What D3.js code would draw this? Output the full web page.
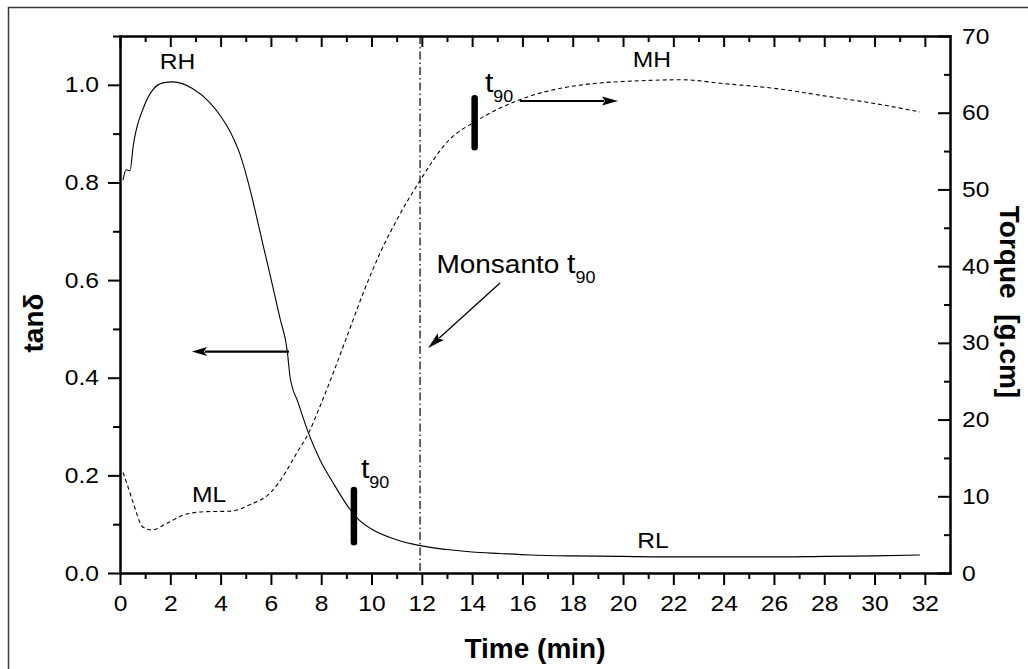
<!DOCTYPE html>
<html>
<head>
<meta charset="utf-8">
<script src="https://cdn.jsdelivr.net/npm/d3@7"></script>
<style>
  html, body { margin: 0; padding: 0; background: #fff; }
  svg { display: block; font-family: "Liberation Sans", Arial, Helvetica, sans-serif; }
</style>
</head>
<body>
<svg id="chart" width="1028" height="669"></svg>
<script>
// ---- Rheometer cure curve: loss tangent and torque vs time ----

// tan(delta) trace (left axis)
const tanTime  = [0.12, 0.24, 0.40, 0.52, 0.95, 1.31, 1.71, 2.10, 2.90, 3.58, 4.00, 4.40, 4.77, 5.17, 5.57, 5.97, 6.36, 6.65, 6.76, 7.09, 7.49, 7.95, 8.48, 9.15, 9.42, 10.0, 11.0, 11.93, 13.0, 14.0, 15.1, 16.3, 18.0, 20.0, 22.0, 24.0, 26.2, 28.0, 30.0, 31.8];
const tanValue = [0.805, 0.826, 0.824, 0.873, 0.955, 0.990, 1.004, 1.006, 0.992, 0.963, 0.936, 0.902, 0.858, 0.786, 0.698, 0.610, 0.522, 0.455, 0.402, 0.348, 0.287, 0.232, 0.184, 0.130, 0.113, 0.090, 0.068, 0.056, 0.048, 0.043, 0.040, 0.037, 0.035, 0.034, 0.033, 0.033, 0.033, 0.034, 0.035, 0.037];

// torque trace (right axis, g.cm)
const torqueTime  = [0.12, 0.30, 0.52, 0.91, 1.27, 1.87, 2.66, 3.46, 4.37, 5.17, 5.96, 6.56, 7.02, 7.49, 7.95, 8.48, 9.02, 9.67, 10.34, 11.0, 11.86, 13.1, 14.1, 15.9, 18.3, 20.95, 22.3, 24.0, 26.2, 28.0, 30.0, 31.8];
const torqueValue = [13.1, 11.4, 9.2, 6.0, 5.6, 6.5, 7.7, 8.0, 8.05, 8.9, 10.4, 13.0, 15.6, 18.2, 21.7, 26.1, 30.8, 36.5, 41.7, 46.0, 50.8, 56.5, 58.8, 61.7, 63.6, 64.2, 64.3, 63.8, 63.1, 62.2, 61.2, 60.1];

// axis ticks
const timeMajor   = d3.range(0, 33, 2);
const timeMinor   = d3.range(1, 33, 2);
const tanMajor    = [0.0, 0.2, 0.4, 0.6, 0.8, 1.0];
const tanMinor    = [0.1, 0.3, 0.5, 0.7, 0.9, 1.1];
const torqueMajor = [0, 10, 20, 30, 40, 50, 60, 70];
const torqueMinor = [5, 15, 25, 35, 45, 55, 65];

// cure-time markers
const monsantoT90 = 11.93;                       // min
const t90Tan      = { time: 9.3,  lo: 0.063, hi: 0.170 };   // on tan(delta)
const t90Torque   = { time: 14.1, lo: 55.5,  hi: 61.9 };    // on torque

// ---- layout ----
const W = 1028, H = 669;
const L = 120, R = 950, T = 36, B = 573;
const SX = 1.12;   // regular text is drawn slightly widened

const svg = d3.select("#chart");

const x   = d3.scaleLinear().domain([0, 33]).range([L, R]);
const yL  = d3.scaleLinear().domain([0, 1.1]).range([B, T]);
const yR  = d3.scaleLinear().domain([0, 70]).range([B, T]);

// outer frame (extends past the canvas on the right and bottom)
svg.append("path")
  .attr("d", `M8.5,${H + 2}V7.5H${W + 2}`)
  .attr("fill", "none")
  .attr("stroke", "#3a3a3a")
  .attr("stroke-width", 1.5);

function styleAxis(g) {
  g.attr("font-family", null).attr("font-size", 22);
  g.selectAll(".domain").attr("stroke", "#000").attr("stroke-width", 2).attr("stroke-linecap", "square");
  g.selectAll(".tick line").attr("stroke", "#000").attr("stroke-width", 2);
  g.selectAll(".tick text").attr("fill", "#000").each(function () {
    const t = d3.select(this);
    const tx = +t.attr("x") || 0;
    t.attr("x", tx / SX).attr("transform", `scale(${SX},1)`);
  });
}

// bottom axis
svg.append("g").attr("transform", `translate(0,${B})`)
  .call(d3.axisBottom(x).tickValues(timeMinor).tickSize(6).tickSizeOuter(0).tickFormat(""))
  .call(styleAxis);
svg.append("g").attr("transform", `translate(0,${B})`)
  .call(d3.axisBottom(x).tickValues(timeMajor).tickSize(12).tickSizeOuter(0).tickPadding(10).tickFormat(d3.format("d")))
  .call(styleAxis);

// top axis (ticks inward, no labels)
svg.append("g").attr("transform", `translate(0,${T})`)
  .call(d3.axisTop(x).tickValues(timeMinor).tickSize(-6).tickSizeOuter(0).tickFormat(""))
  .call(styleAxis);
svg.append("g").attr("transform", `translate(0,${T})`)
  .call(d3.axisTop(x).tickValues(timeMajor).tickSize(-11).tickSizeOuter(0).tickFormat(""))
  .call(styleAxis);

// left axis: tan(delta)
svg.append("g").attr("transform", `translate(${L},0)`)
  .call(d3.axisLeft(yL).tickValues(tanMinor).tickSize(7).tickSizeOuter(0).tickFormat(""))
  .call(styleAxis);
svg.append("g").attr("transform", `translate(${L},0)`)
  .call(d3.axisLeft(yL).tickValues(tanMajor).tickSize(12).tickSizeOuter(0).tickPadding(9).tickFormat(d3.format(".1f")))
  .call(styleAxis);

// right axis: torque (ticks inward)
svg.append("g").attr("transform", `translate(${R},0)`)
  .call(d3.axisRight(yR).tickValues(torqueMinor).tickSize(-6).tickSizeOuter(0).tickFormat(""))
  .call(styleAxis);
svg.append("g").attr("transform", `translate(${R},0)`)
  .call(d3.axisRight(yR).tickValues(torqueMajor).tickSize(-12).tickSizeOuter(0).tickPadding(12).tickFormat(d3.format("d")))
  .call(styleAxis);

// axis titles
svg.append("text")
  .attr("x", 535).attr("y", 658)
  .attr("text-anchor", "middle")
  .attr("font-weight", "bold").attr("font-size", 28)
  .text("Time (min)");

svg.append("text")
  .attr("transform", "translate(43,323) rotate(-90)")
  .attr("text-anchor", "middle")
  .attr("font-weight", "bold").attr("font-size", 28)
  .text("tanδ");

svg.append("text")
  .attr("transform", "translate(1000,302) rotate(90)")
  .attr("text-anchor", "middle")
  .attr("font-weight", "bold").attr("font-size", 28)
  .style("white-space", "pre")
  .text("Torque  [g.cm]");

// Monsanto t90 reference line
svg.append("line")
  .attr("x1", x(monsantoT90)).attr("x2", x(monsantoT90))
  .attr("y1", T).attr("y2", B)
  .attr("stroke", "#000").attr("stroke-width", 1.2)
  .attr("stroke-dasharray", "8,3,1.5,3");

// curves
const tanData    = tanTime.map((t, i) => [t, tanValue[i]]);
const torqueData = torqueTime.map((t, i) => [t, torqueValue[i]]);

svg.append("path")
  .datum(tanData)
  .attr("fill", "none").attr("stroke", "#000").attr("stroke-width", 1.1)
  .attr("d", d3.line().x(d => x(d[0])).y(d => yL(d[1])).curve(d3.curveMonotoneX));

svg.append("path")
  .datum(torqueData)
  .attr("fill", "none").attr("stroke", "#000").attr("stroke-width", 1.1)
  .attr("stroke-dasharray", "4,3")
  .attr("d", d3.line().x(d => x(d[0])).y(d => yR(d[1])).curve(d3.curveMonotoneX));

// t90 markers
[[t90Tan, yL], [t90Torque, yR]].forEach(([m, ys]) => {
  svg.append("line")
    .attr("x1", x(m.time)).attr("x2", x(m.time))
    .attr("y1", ys(m.lo)).attr("y2", ys(m.hi))
    .attr("stroke", "#000").attr("stroke-width", 6.5).attr("stroke-linecap", "round");
});

// arrows
function arrow(x1, y1, x2, y2, width, headLen, headHalf) {
  const dx = x2 - x1, dy = y2 - y1, len = Math.hypot(dx, dy);
  const ux = dx / len, uy = dy / len;
  const bx = x2 - ux * headLen, by = y2 - uy * headLen;
  svg.append("line")
    .attr("x1", x1).attr("y1", y1).attr("x2", bx + ux * 2).attr("y2", by + uy * 2)
    .attr("stroke", "#000").attr("stroke-width", width);
  svg.append("path")
    .attr("d", `M${x2},${y2}L${bx - uy * headHalf},${by + ux * headHalf}L${bx + ux * 3},${by + uy * 3}L${bx + uy * headHalf},${by - ux * headHalf}Z`)
    .attr("fill", "#000");
}
arrow(x(6.72), yL(0.4536), x(2.86), yL(0.4536), 2.2, 15, 4.5);
arrow(x(15.9), yR(61.53), x(19.8), yR(61.53), 2.2, 16, 4.5);
arrow(x(15.11), yL(0.594), x(12.25), yL(0.461), 1.3, 17, 4.5);

// text annotations (widened regular face)
function label(px, py, anchor, size) {
  return svg.append("g")
    .attr("transform", `translate(${px},${py}) scale(${SX},1)`)
    .append("text")
    .attr("text-anchor", anchor)
    .attr("font-size", size)
    .attr("fill", "#000");
}
label(x(2.29), yL(1.032), "middle", 22).text("RH");
label(x(3.54), yL(0.146), "middle", 22).text("ML");
label(x(21.15), yL(1.036), "middle", 22).text("MH");
label(x(21.19), yL(0.052), "middle", 22).text("RL");

function t90Label(px, py, size, subSize, prefix) {
  const t = label(px, py, "start", size);
  if (prefix) t.append("tspan").text(prefix);
  t.append("tspan").attr("font-size", size + 2).text("t");
  t.append("tspan").attr("font-size", subSize).attr("dy", 10).text("90");
}
t90Label(x(12.58), yL(0.615), 25, 16, "Monsanto ");
t90Label(x(9.58), yL(0.195), 25, 16, null);
t90Label(x(14.51), yL(0.985), 25, 16, null);
</script>
</body>
</html>
